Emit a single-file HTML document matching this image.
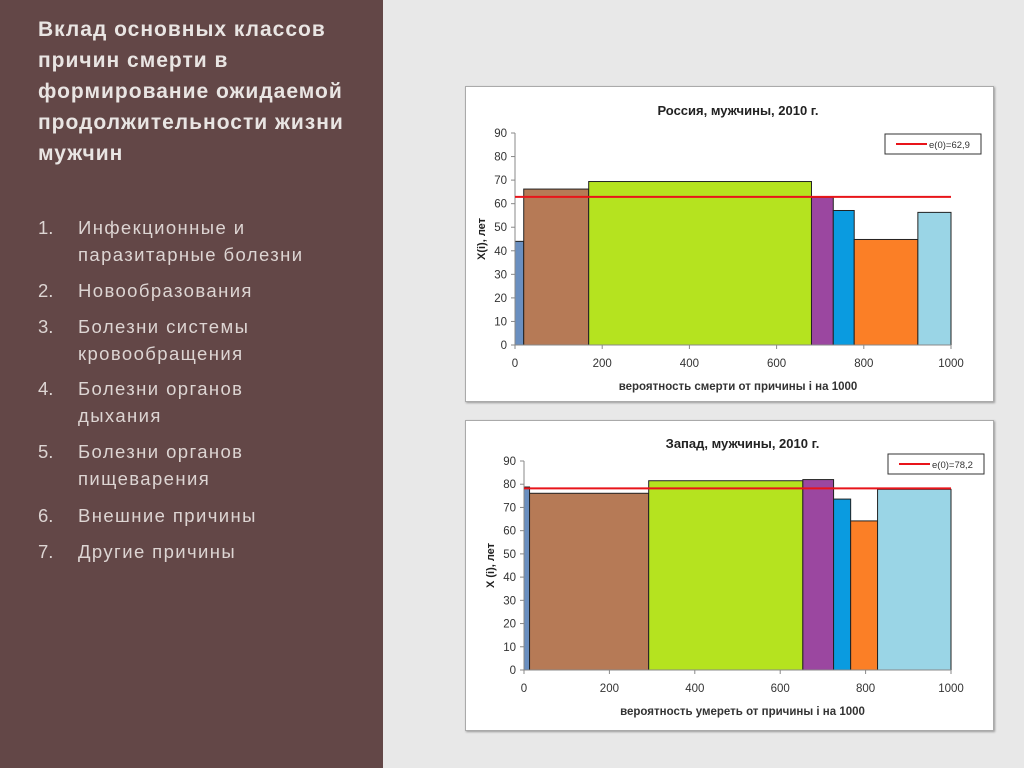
<!DOCTYPE html>
<html><head><meta charset="utf-8">
<style>
body{margin:0;width:1024px;height:768px;overflow:hidden;background:#e8e8e8;font-family:"Liberation Sans","DejaVu Sans",sans-serif;position:relative}
#left{position:absolute;left:0;top:0;width:383px;height:768px;background:#634747}
#title{position:absolute;left:38px;top:14px;color:#e9e5e3;font-size:21px;font-weight:bold;line-height:31px;margin:0;letter-spacing:1px}
.item{position:absolute;left:38px;color:#ddd5d3;font-size:18.5px;line-height:27px;letter-spacing:1.4px}
.item .n{position:absolute;left:0;width:30px;letter-spacing:0}
.item .t{position:absolute;left:40px;white-space:nowrap}
.box{position:absolute;background:#fff;border:1px solid #aaa;box-shadow:1px 1px 2px #999}
svg text{font-family:"Liberation Sans","DejaVu Sans",sans-serif}
</style></head><body>
<div id="left"></div>
<h1 id="title">Вклад основных классов<br>причин смерти в<br>формирование ожидаемой<br>продолжительности жизни<br>мужчин</h1>
<div class="item" style="top:214px"><span class="n">1.</span><span class="t">Инфекционные и<br>паразитарные болезни</span></div>
<div class="item" style="top:277px"><span class="n">2.</span><span class="t">Новообразования</span></div>
<div class="item" style="top:313px"><span class="n">3.</span><span class="t">Болезни системы<br>кровообращения</span></div>
<div class="item" style="top:375px"><span class="n">4.</span><span class="t">Болезни органов<br>дыхания</span></div>
<div class="item" style="top:438px"><span class="n">5.</span><span class="t">Болезни органов<br>пищеварения</span></div>
<div class="item" style="top:502px"><span class="n">6.</span><span class="t">Внешние причины</span></div>
<div class="item" style="top:538px"><span class="n">7.</span><span class="t">Другие причины</span></div>

<div class="box" style="left:465px;top:86px;width:527px;height:314px"></div>
<div class="box" style="left:465px;top:420px;width:527px;height:309px"></div>
<svg id="svg" width="1024" height="768" style="position:absolute;left:0;top:0"></svg>

<script>
const colors=["#6a8fc0","#b67a56","#b5e31f","#9b47a0","#0a9be0","#fb7f26","#9ad5e6"];
const ruBounds=[0,20,169,680,730,778,924,1000];
const ruHeights=[44,66.2,69.4,62.7,57.1,44.8,56.3];
const ruE0=62.9;
const weBounds=[0,13,292,653,725,765,828,1000];
const weHeights=[78.8,76.1,81.5,82,73.6,64.2,77.8];
const weE0=78.2;
const xTicks=[0,200,400,600,800,1000];
const yTicks=[0,10,20,30,40,50,60,70,80,90];

const svg=document.getElementById('svg');
const NS="http://www.w3.org/2000/svg";
function mk(tag,attrs,parent){const e=document.createElementNS(NS,tag);for(const k in attrs)e.setAttribute(k,attrs[k]);(parent||svg).appendChild(e);return e;}

function chart(c){
  const g=mk('g',{});
  
  
  const X=v=>c.x0+(c.x1-c.x0)*v/1000;
  const Y=v=>c.y0-(c.y0-c.y90)*v/90;
  const t=mk('text',{x:(c.x0+c.x1)/2+5,y:c.titleY,'text-anchor':'middle','font-size':13,'font-weight':'bold',fill:'#222'},g);
  t.textContent=c.title;
  
  
  for(let i=0;i<c.heights.length;i++){
    const r=mk('rect',{x:X(c.bounds[i]),y:Y(c.heights[i]),width:X(c.bounds[i+1])-X(c.bounds[i]),height:Y(0)-Y(c.heights[i]),fill:colors[i],stroke:'#222','stroke-width':1},g);
    
    
  }
  mk('line',{x1:c.x0,y1:c.y0,x2:c.x0,y2:c.y90,stroke:'#888'},g);
  mk('line',{x1:c.x0,y1:c.y0,x2:c.x1,y2:c.y0,stroke:'#888'},g);
  yTicks.forEach(v=>{
    mk('line',{x1:c.x0-4,y1:Y(v),x2:c.x0,y2:Y(v),stroke:'#888'},g);
    const tt=mk('text',{x:c.x0-8,y:Y(v)+4,'text-anchor':'end','font-size':11.5,fill:'#333'},g);
    tt.textContent=v;
    
    
  });
  xTicks.forEach(v=>{
    mk('line',{x1:X(v),y1:c.y0,x2:X(v),y2:c.y0+4,stroke:'#888'},g);
    const tt=mk('text',{x:X(v),y:c.y0+22,'text-anchor':'middle','font-size':11.5,fill:'#333'},g);
    tt.textContent=v;
    
    
  });
  const ln=mk('line',{x1:c.x0,y1:Y(c.e0),x2:c.x1,y2:Y(c.e0),stroke:'#e8141a','stroke-width':2},g);
  
  
  const xt=mk('text',{x:(c.x0+c.x1)/2+5,y:c.y0+45,'text-anchor':'middle','font-size':11.5,'font-weight':'bold',fill:'#333'},g);
  xt.textContent=c.xlabel;
  
  
  const yt=mk('text',{x:0,y:0,'text-anchor':'middle','font-size':11,'font-weight':'bold',fill:'#222',transform:`translate(${c.x0-30},${(c.y0+c.y90)/2}) rotate(-90)`},g);
  yt.textContent=c.ylabel;
  
  
  const lg=mk('g',{},g);
  
  
  mk('rect',{x:c.legX,y:c.legY,width:96,height:20,fill:'#fff',stroke:'#333'},lg);
  mk('line',{x1:c.legX+11,y1:c.legY+10,x2:c.legX+42,y2:c.legY+10,stroke:'#e8141a','stroke-width':2},lg);
  const lt=mk('text',{x:c.legX+44,y:c.legY+14,'font-size':9.5,fill:'#333'},lg);
  lt.textContent='e(0)='+String(c.e0).replace('.',',');
}
chart({name:'russia-chart',title:'Россия, мужчины, 2010 г.',bounds:ruBounds,heights:ruHeights,e0:ruE0,x0:515,x1:951,y0:345,y90:133,titleY:115,xlabel:'вероятность  смерти  от причины  i на 1000',ylabel:'X(i), лет',legX:885,legY:134});
chart({name:'west-chart',title:'Запад, мужчины, 2010 г.',bounds:weBounds,heights:weHeights,e0:weE0,x0:524,x1:951,y0:670,y90:461,titleY:448,xlabel:'вероятность  умереть от причины  i на 1000',ylabel:'X (i), лет',legX:888,legY:454});
</script>
</body></html>
